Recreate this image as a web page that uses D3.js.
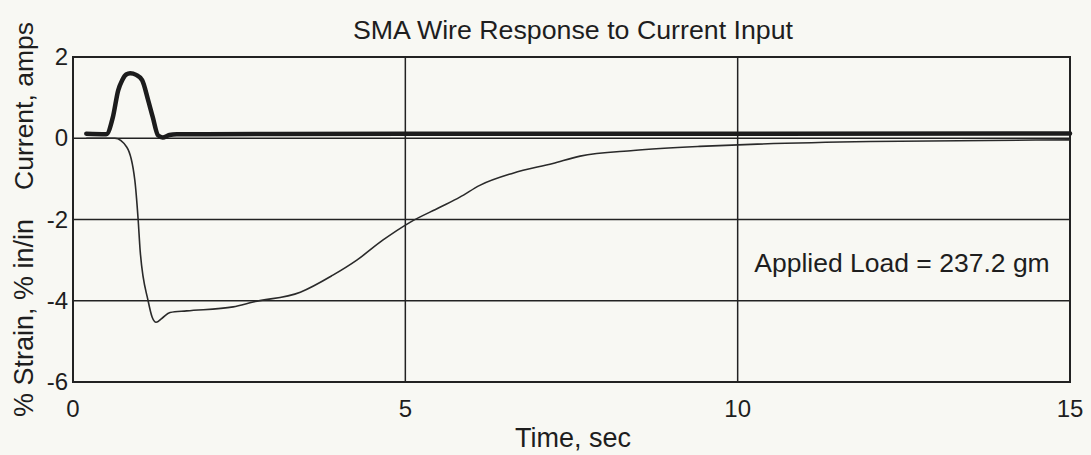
<!DOCTYPE html>
<html>
<head>
<meta charset="utf-8">
<script src="https://cdn.jsdelivr.net/npm/d3@7"></script>
<style>
  body { margin: 0; background: #f8f8f3; }
  svg { display: block; font-family: "Liberation Sans", Arial, sans-serif; }
  text { fill: #1e1e1e; }
</style>
</head>
<body>
<svg width="1091" height="455"></svg>
<script>
// current input, amps
var currentTime = [0.2, 0.5, 0.6, 0.68, 0.74, 0.8, 0.86, 0.95, 1.04, 1.13, 1.2, 1.28, 1.35, 1.45, 1.56, 2, 5, 10, 15];
var currentAmps = [0.11, 0.1, 0.52, 1.18, 1.43, 1.57, 1.6, 1.56, 1.43, 0.94, 0.52, 0.07, 0.02, 0.08, 0.1, 0.1, 0.11, 0.11, 0.12];

// wire strain, % in/in
var strainTime = [0.2, 0.63, 0.81, 0.93, 0.98, 1.01, 1.13, 1.19, 1.25, 1.34, 1.46, 1.71, 2.41, 2.71, 3.42, 3.91, 4.27, 4.66, 5.07, 5.52, 5.82, 6.12, 6.62, 7.22, 7.63, 8.43, 9.43, 10.2, 12, 15];
var strainPct = [0, 0, -0.22, -1.03, -2.0, -2.76, -4.0, -4.4, -4.53, -4.43, -4.29, -4.25, -4.15, -4.03, -3.79, -3.37, -3.0, -2.51, -2.07, -1.70, -1.45, -1.16, -0.86, -0.62, -0.44, -0.30, -0.2, -0.15, -0.08, -0.04];

var xTicks = [0, 5, 10, 15];
var yTicks = [2, 0, -2, -4, -6];
var gridX = [5, 10];
var gridY = [0, -2, -4];

var margin = {top: 57, right: 21, bottom: 73, left: 73};
var svg = d3.select("svg");
var width = 1091 - margin.left - margin.right;
var height = 455 - margin.top - margin.bottom;

var x = d3.scaleLinear().domain([0, 15]).range([0, width]);
var y = d3.scaleLinear().domain([-6, 2]).range([height, 0]);

var g = svg.append("g")
  .attr("transform", "translate(" + margin.left + "," + margin.top + ")");

// grid
g.selectAll(".gx").data(gridX).enter().append("line")
  .attr("x1", d => x(d)).attr("x2", d => x(d))
  .attr("y1", 0).attr("y2", height)
  .attr("stroke", "#222").attr("stroke-width", 1.5);
g.selectAll(".gy").data(gridY).enter().append("line")
  .attr("x1", 0).attr("x2", width)
  .attr("y1", d => y(d)).attr("y2", d => y(d))
  .attr("stroke", "#222").attr("stroke-width", 1.5);

// frame
g.append("rect")
  .attr("width", width).attr("height", height)
  .attr("fill", "none").attr("stroke", "#222").attr("stroke-width", 2);

var line = d3.line().x(d => x(d[0])).y(d => y(d[1])).curve(d3.curveMonotoneX);

g.append("path")
  .datum(d3.zip(strainTime, strainPct))
  .attr("d", line)
  .attr("fill", "none").attr("stroke", "#2a2a2a").attr("stroke-width", 1.6);

g.append("path")
  .datum(d3.zip(currentTime, currentAmps))
  .attr("d", line)
  .attr("fill", "none").attr("stroke", "#1c1c1c").attr("stroke-width", 4.5)
  .attr("stroke-linejoin", "round").attr("stroke-linecap", "round");

// tick labels
g.selectAll(".xt").data(xTicks).enter().append("text")
  .attr("x", d => x(d)).attr("y", height + 35)
  .attr("text-anchor", "middle").attr("font-size", 24)
  .text(d => d);
g.selectAll(".yt").data(yTicks).enter().append("text")
  .attr("x", -5).attr("y", d => y(d) + 8)
  .attr("text-anchor", "end").attr("font-size", 24)
  .text(d => d);

// titles
svg.append("text")
  .attr("x", 573).attr("y", 39)
  .attr("text-anchor", "middle").attr("font-size", 26.5)
  .attr("textLength", 440).attr("lengthAdjust", "spacingAndGlyphs")
  .text("SMA Wire Response to Current Input");
svg.append("text")
  .attr("x", 573).attr("y", 447)
  .attr("text-anchor", "middle").attr("font-size", 27)
  .text("Time, sec");
svg.append("text")
  .attr("transform", "translate(33,417) rotate(-90)")
  .attr("text-anchor", "start").attr("font-size", 27)
  .text("% Strain, % in/in");
svg.append("text")
  .attr("transform", "translate(33,22) rotate(-90)")
  .attr("text-anchor", "end").attr("font-size", 26.5)
  .text("Current, amps");

g.append("text")
  .attr("x", x(10.25)).attr("y", y(-3.28))
  .attr("font-size", 26.5)
  .text("Applied Load = 237.2 gm");
</script>
</body>
</html>
